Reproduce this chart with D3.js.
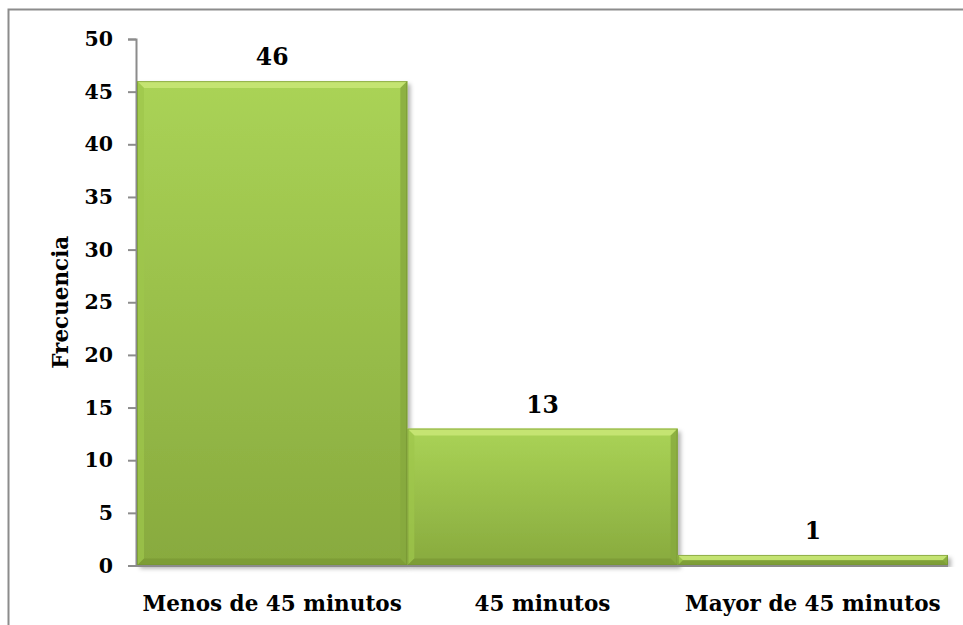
<!DOCTYPE html>
<html>
<head>
<meta charset="utf-8">
<script src="https://cdn.jsdelivr.net/npm/d3@7"></script>
<style>
  html, body { margin: 0; padding: 0; background: #fff; }
  svg { display: block; }
</style>
</head>
<body>
<div id="chart"></div>
<script>
// Frequency of answers by time range
const categories = ["Menos de 45 minutos", "45 minutos", "Mayor de 45 minutos"];
const values = [46, 13, 1];
const yTicks = [0, 5, 10, 15, 20, 25, 30, 35, 40, 45, 50];
const yTitle = "Frecuencia";

const W = 963, H = 625;
const margin = { left: 136, right: 15, top: 39, bottom: 59 };
const font = "'DejaVu Serif', 'Liberation Serif', serif";

const svg = d3.select("#chart").append("svg")
  .attr("width", W).attr("height", H);

// outer frame
svg.append("rect")
  .attr("x", 8.5).attr("y", 9.5)
  .attr("width", W).attr("height", H)
  .attr("fill", "none").attr("stroke", "#8c8c8c").attr("stroke-width", 2);

const defs = svg.append("defs");
const grad = defs.append("linearGradient").attr("id", "barGrad")
  .attr("x1", 0).attr("y1", 0).attr("x2", 0).attr("y2", 1);
grad.append("stop").attr("offset", "0%").attr("stop-color", "#aad356");
grad.append("stop").attr("offset", "100%").attr("stop-color", "#88aa3e");

const shadow = defs.append("filter").attr("id", "shadow")
  .attr("x", "-5%").attr("y", "-5%").attr("width", "115%").attr("height", "115%");
shadow.append("feDropShadow").attr("dx", 3).attr("dy", 3).attr("stdDeviation", 2)
  .attr("flood-color", "#000").attr("flood-opacity", 0.3);

const x = d3.scaleBand().domain(categories)
  .range([margin.left + 1, W - margin.right]).padding(0);
const y = d3.scaleLinear().domain([0, 50]).range([H - margin.bottom - 0.5, margin.top]);

// y axis
const yAxis = d3.axisLeft(y).tickValues(yTicks).tickSize(8).tickPadding(15);
const gy = svg.append("g").attr("transform", `translate(${margin.left},0)`).call(yAxis);
gy.select(".domain").attr("stroke", "#8c8c8c").attr("stroke-width", 2);
gy.selectAll(".tick line").attr("stroke", "#8c8c8c").attr("stroke-width", 2);
gy.selectAll(".tick text")
  .attr("font-family", font).attr("font-weight", "bold")
  .attr("font-size", 20.5).attr("fill", "#000");

// bars with a bevelled look
const bev = 7;
const bars = svg.append("g").selectAll("g.bar")
  .data(categories.map((c, i) => ({ c, v: values[i] })))
  .join("g").attr("class", "bar");

bars.each(function (d) {
  const g = d3.select(this);
  const x0 = x(d.c), x1 = x(d.c) + x.bandwidth();
  const y0 = y(d.v), y1 = y(0);
  const b = Math.min(bev, (y1 - y0) / 2);
  g.append("rect")
    .attr("x", x0).attr("y", y0)
    .attr("width", x1 - x0).attr("height", y1 - y0)
    .attr("fill", "url(#barGrad)").attr("filter", "url(#shadow)");
  // top bevel
  g.append("polygon")
    .attr("points", [[x0, y0], [x1, y0], [x1 - b, y0 + b], [x0 + b, y0 + b]].join(" "))
    .attr("fill", "#c8e675").attr("opacity", 0.9);
  // left bevel
  g.append("polygon")
    .attr("points", [[x0, y0], [x0 + b, y0 + b], [x0 + b, y1 - b], [x0, y1]].join(" "))
    .attr("fill", "#9ec64c").attr("opacity", 0.7);
  // right bevel
  g.append("polygon")
    .attr("points", [[x1, y0], [x1, y1], [x1 - b, y1 - b], [x1 - b, y0 + b]].join(" "))
    .attr("fill", "#86a93d").attr("opacity", 0.8);
  // bottom bevel
  g.append("polygon")
    .attr("points", [[x0, y1], [x0 + b, y1 - b], [x1 - b, y1 - b], [x1, y1]].join(" "))
    .attr("fill", "#7b9a35").attr("opacity", 0.8);
  // thin edge
  g.append("rect")
    .attr("x", x0 + 0.5).attr("y", y0 + 0.5)
    .attr("width", x1 - x0 - 1).attr("height", y1 - y0 - 1)
    .attr("fill", "none").attr("stroke", "#6e8c2f").attr("stroke-width", 1).attr("opacity", 0.6);
});

// x axis baseline
svg.append("line")
  .attr("x1", margin.left - 8).attr("x2", W - margin.right)
  .attr("y1", y(0) + 0.5).attr("y2", y(0) + 0.5)
  .attr("stroke", "#8c8c8c").attr("stroke-width", 2);

// value labels
svg.append("g").selectAll("text")
  .data(categories.map((c, i) => ({ c, v: values[i] })))
  .join("text")
  .attr("x", d => x(d.c) + x.bandwidth() / 2)
  .attr("y", d => y(d.v) - 16)
  .attr("text-anchor", "middle")
  .attr("font-family", font).attr("font-weight", "bold")
  .attr("font-size", 23.5).attr("fill", "#000")
  .text(d => d.v);

// category labels
svg.append("g").selectAll("text")
  .data(categories)
  .join("text")
  .attr("x", d => x(d) + x.bandwidth() / 2)
  .attr("y", 611)
  .attr("text-anchor", "middle")
  .attr("font-family", font).attr("font-weight", "bold")
  .attr("font-size", 21.5).attr("fill", "#000")
  .text(d => d);

// y axis title
svg.append("text")
  .attr("transform", `translate(68,${(y(0) + y(50)) / 2}) rotate(-90)`)
  .attr("text-anchor", "middle")
  .attr("font-family", font).attr("font-weight", "bold")
  .attr("font-size", 21.5).attr("fill", "#000")
  .text(yTitle);
</script>
</body>
</html>
